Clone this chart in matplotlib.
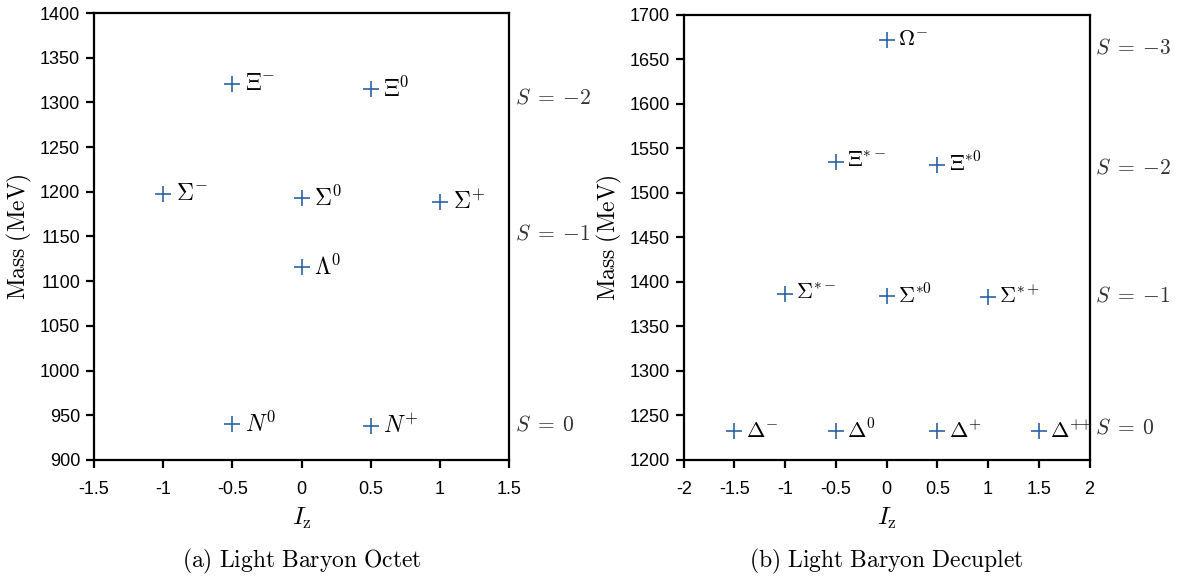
import matplotlib
matplotlib.use("Agg")
import matplotlib.pyplot as plt

plt.rcParams["mathtext.fontset"] = "cm"
plt.rcParams["font.family"] = ["Liberation Sans Narrow", "Liberation Sans", "DejaVu Sans"]

# Octet data
octet_iz = [-0.5, 0.5, -1, 0, 1, 0, -0.5, 0.5]
octet_mass = [1321, 1315, 1197, 1193, 1189, 1116, 940, 938]
octet_names = [r"$\Xi^{-}$", r"$\Xi^{0}$", r"$\Sigma^{-}$", r"$\Sigma^{0}$",
               r"$\Sigma^{+}$", r"$\Lambda^{0}$", r"$N^{0}$", r"$N^{+}$"]
octet_s_labels = ["-2", "-1", "0"]
octet_s_pos = [1305, 1153, 939]

# Decuplet data
decuplet_iz = [0, -0.5, 0.5, -1, 0, 1, -1.5, -0.5, 0.5, 1.5]
decuplet_mass = [1672, 1535, 1532, 1387, 1384, 1383, 1232, 1232, 1232, 1232]
decuplet_names = [r"$\Omega^{-}$", r"$\Xi^{*-}$", r"$\Xi^{*0}$", r"$\Sigma^{*-}$",
                  r"$\Sigma^{*0}$", r"$\Sigma^{*+}$", r"$\Delta^{-}$", r"$\Delta^{0}$",
                  r"$\Delta^{+}$", r"$\Delta^{+\!\!+}$"]
decuplet_s_labels = ["-3", "-2", "-1", "0"]
decuplet_s_pos = [1663, 1528, 1384, 1236]

COLOR = "#2a64a4"


def draw_panel(ax, iz, mass, names, s_labels, s_pos, xlim, ylim, xticks, yticks,
               label_dx, label_size, caption):
    ax.plot(iz, mass, "+", color=COLOR, markersize=11, markeredgewidth=1.2)
    for x, y, name in zip(iz, mass, names):
        ax.text(x + label_dx, y, name, fontsize=label_size, va="center", ha="left")

    # strangeness labels outside the right spine
    for lab, y in zip(s_labels, s_pos):
        tex = r"$S\;=\;{" + lab + "}$"
        ax.text(1.013, y, tex, transform=ax.get_yaxis_transform(), fontsize=15.5,
                color="#333333", va="center", ha="left", clip_on=False)

    ax.set_xlim(xlim)
    ax.set_ylim(ylim)
    ax.set_xticks(xticks)
    ax.set_xticklabels([f"{t:g}" for t in xticks])
    ax.set_yticks(yticks)
    ax.tick_params(direction="out", length=6, width=1.6, labelsize=13)
    ax.tick_params(axis="x", pad=9)
    ax.tick_params(axis="y", pad=4)
    for sp in ax.spines.values():
        sp.set_linewidth(1.6)
    ax.set_xlabel(r"$I_{\mathrm{z}}$", fontsize=18, labelpad=6)
    ax.set_ylabel(r"$\mathrm{Mass\ (MeV)}$", fontsize=17, labelpad=4)
    box = ax.get_position()
    fig.text(box.x0 + box.width / 2, 0.033, caption, fontsize=17,
             ha="center", va="center")


fig = plt.figure(figsize=(11.83, 5.81), dpi=100)
ax1 = fig.add_axes([0.0795, 0.2083, 0.351, 0.7693])
ax2 = fig.add_axes([0.578, 0.2083, 0.343, 0.7659])

draw_panel(ax1, octet_iz, octet_mass, octet_names, octet_s_labels, octet_s_pos,
           (-1.5, 1.5), (900, 1400), [-1.5, -1, -0.5, 0, 0.5, 1, 1.5],
           list(range(900, 1401, 50)), 0.09, 17,
           r"$\mathrm{(a)\ Light\ Baryon\ Octet}$")
draw_panel(ax2, decuplet_iz, decuplet_mass, decuplet_names, decuplet_s_labels,
           decuplet_s_pos, (-2, 2), (1200, 1700),
           [-2, -1.5, -1, -0.5, 0, 0.5, 1, 1.5, 2],
           list(range(1200, 1701, 50)), 0.11, 16,
           r"$\mathrm{(b)\ Light\ Baryon\ Decuplet}$")

fig.savefig("out.png", dpi=100)
